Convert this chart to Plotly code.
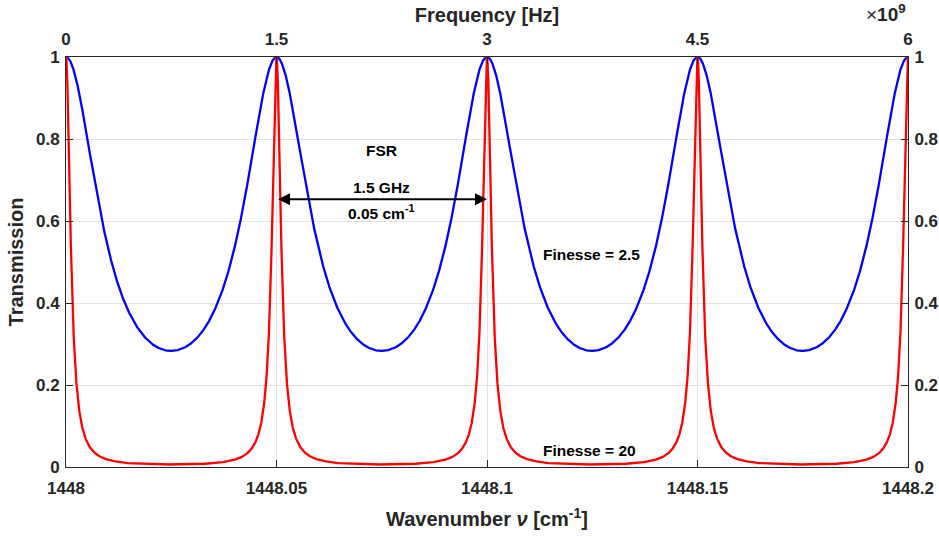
import numpy as np
import plotly.graph_objects as go

# Fabry-Perot etalon parameters
nu_start = 1448.0          # cm^-1
nu_stop = 1448.2           # cm^-1
fsr_wavenumber = 0.05      # cm^-1
fsr_ghz = 1.5              # GHz
finesse_values = [2.5, 20]
series_names = ["Finesse = 2.5", "Finesse = 20"]
series_colors = ["#0000ff", "#ff0000"]

x_ticks = [1448, 1448.05, 1448.1, 1448.15, 1448.2]
x_ticktext = ["1448", "1448.05", "1448.1", "1448.15", "1448.2"]
freq_ticks = [0, 1.5e9, 3e9, 4.5e9, 6e9]
freq_ticktext = ["0", "1.5", "3", "4.5", "6"]
y_ticks = [0, 0.2, 0.4, 0.6, 0.8, 1]
y_ticktext = ["0", "0.2", "0.4", "0.6", "0.8", "1"]

nu = np.linspace(nu_start, nu_stop, 8001)


def airy_transmission(nu_axis, finesse):
    coef = (2 * finesse / np.pi) ** 2
    phase = np.pi * (nu_axis - nu_start) / fsr_wavenumber
    return 1.0 / (1.0 + coef * np.sin(phase) ** 2)


FONT = "Liberation Sans, Arial, sans-serif"
TXT = "#262626"
TICKFONT = dict(family=FONT, size=17, color=TXT, weight="bold")
TITLEFONT = dict(family=FONT, size=20, color=TXT, weight="bold")

fig = go.Figure()
for fin, name, col in zip(finesse_values, series_names, series_colors):
    fig.add_trace(go.Scatter(x=nu, y=airy_transmission(nu, fin), mode="lines",
                             line=dict(color=col, width=2.3), name=name,
                             showlegend=False, hoverinfo="skip"))

# helper trace that anchors the frequency (top) and mirrored (right) axes
fig.add_trace(go.Scatter(x=[freq_ticks[0], freq_ticks[-1]], y=[0, 1], xaxis="x2", yaxis="y2",
                         mode="markers", marker=dict(opacity=0), showlegend=False,
                         hoverinfo="skip"))

axis_common = dict(showline=True, linecolor=TXT, linewidth=1, ticks="inside",
                   ticklen=7, tickcolor=TXT, tickwidth=1, automargin=False,
                   tickfont=TICKFONT, zeroline=False)

fig.update_layout(
    width=939, height=536,
    margin=dict(l=66, r=31, t=57, b=69),
    plot_bgcolor="white", paper_bgcolor="white",
    font=dict(family=FONT, color=TXT),
    xaxis=dict(range=[nu_start, nu_stop], tickvals=x_ticks, ticktext=x_ticktext,
               showgrid=True, gridcolor="#e3e3e3", gridwidth=1, ticklabelstandoff=6,
               title=dict(text="Wavenumber <i>ν</i> [cm<sup>-1</sup>]",
                          font=TITLEFONT, standoff=14),
               **axis_common),
    yaxis=dict(range=[0, 1], tickvals=y_ticks, ticktext=y_ticktext,
               showgrid=True, gridcolor="#e3e3e3", gridwidth=1, ticklabelstandoff=2,
               title=dict(text="Transmission", font=TITLEFONT, standoff=6),
               **axis_common),
    xaxis2=dict(range=[freq_ticks[0], freq_ticks[-1]], overlaying="x", side="top",
                anchor="y2", tickvals=freq_ticks, ticktext=freq_ticktext, showgrid=False,
                ticklabelstandoff=4,
                title=dict(text="Frequency [Hz]", font=TITLEFONT, standoff=2),
                **axis_common),
    yaxis2=dict(range=[0, 1], overlaying="y", side="right", anchor="x2",
                tickvals=y_ticks, ticktext=y_ticktext, showgrid=False,
                ticklabelstandoff=2, **axis_common),
)

# free spectral range arrow
arrow_y = 0.653
fig.add_annotation(x=nu_start + 2 * fsr_wavenumber, y=arrow_y,
                   ax=nu_start + fsr_wavenumber, ay=arrow_y,
                   xref="x", yref="y", axref="x", ayref="y",
                   text="", showarrow=True, arrowhead=2, startarrowhead=2,
                   arrowside="end+start", arrowsize=1.2, arrowwidth=2,
                   arrowcolor="black")

mid = nu_start + 1.5 * fsr_wavenumber
labels = [
    (mid, 0.773, "FSR", "center"),
    (mid, 0.682, f"{fsr_ghz:g} GHz", "center"),
    (mid, 0.622, f"{fsr_wavenumber:g} cm<sup>-1</sup>", "center"),
    (1448.1128, 0.518, series_names[0], "left"),
    (1448.1128, 0.040, series_names[1], "left"),
]
for lx, ly, lt, anchor in labels:
    fig.add_annotation(x=lx, y=ly, xref="x", yref="y", text=lt, showarrow=False,
                       xanchor=anchor,
                       font=dict(family=FONT, size=15.5, color="black", weight="bold"))

# exponent marker for the frequency axis
fig.add_annotation(x=1.0, y=1.0, xref="paper", yref="paper", xanchor="right",
                   yanchor="bottom", yshift=30, xshift=0,
                   text="×<b>10<sup>9</sup></b>", showarrow=False,
                   font=dict(family=FONT, size=19, color=TXT))

fig.write_html("out.html")
